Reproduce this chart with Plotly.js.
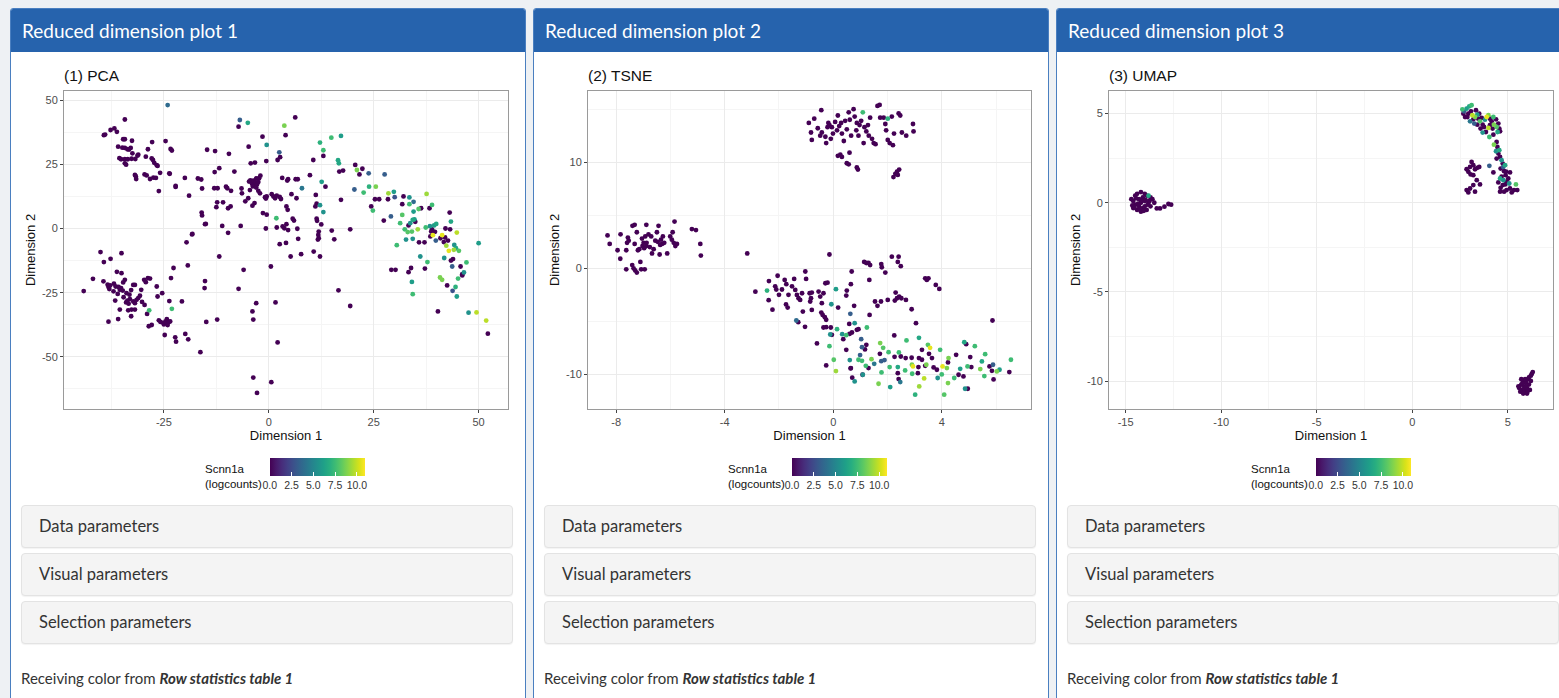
<!DOCTYPE html>
<html>
<head>
<meta charset="utf-8">
<script src="https://cdn.plot.ly/plotly-3.0.1.min.js"></script>
<style>
  html,body{margin:0;padding:0;}
  body{background:#eef1f4;width:1559px;height:698px;overflow:hidden;position:relative;font-family:Lato,"Noto Sans",sans-serif;color:#333;}
  .panel{position:absolute;top:8px;width:516px;height:720px;background:#fff;border:1px solid #4a7fc0;border-radius:3px;box-sizing:border-box;}
  .hdr{height:43px;background:#2663ad;color:#fff;font-size:19px;line-height:43px;padding-left:11px;border-radius:2px 2px 0 0;}
  .plot{position:absolute;left:-1px;top:43px;width:516px;height:448px;}
  .acc{position:absolute;left:10px;width:492px;height:43px;background:#f4f4f4;border:1px solid #e3e3e3;border-radius:4px;box-sizing:border-box;font-size:16.5px;line-height:41px;padding-left:17px;color:#333;box-shadow:0 1px 1px rgba(0,0,0,0.05);}
  .recv{position:absolute;left:10px;top:659px;font-size:15px;line-height:20px;color:#333;white-space:nowrap;}
</style>
</head>
<body>
<div class="panel" style="left:10px;">
  <div class="hdr">Reduced dimension plot 1</div>
  <div class="plot" id="p1"></div>
  <div class="acc" style="top:496px;">Data parameters</div>
  <div class="acc" style="top:544px;">Visual parameters</div>
  <div class="acc" style="top:592px;">Selection parameters</div>
  <div class="recv">Receiving color from <b><i>Row statistics table 1</i></b></div>
</div>
<div class="panel" style="left:533px;">
  <div class="hdr">Reduced dimension plot 2</div>
  <div class="plot" id="p2"></div>
  <div class="acc" style="top:496px;">Data parameters</div>
  <div class="acc" style="top:544px;">Visual parameters</div>
  <div class="acc" style="top:592px;">Selection parameters</div>
  <div class="recv">Receiving color from <b><i>Row statistics table 1</i></b></div>
</div>
<div class="panel" style="left:1056px;">
  <div class="hdr">Reduced dimension plot 3</div>
  <div class="plot" id="p3"></div>
  <div class="acc" style="top:496px;">Data parameters</div>
  <div class="acc" style="top:544px;">Visual parameters</div>
  <div class="acc" style="top:592px;">Selection parameters</div>
  <div class="recv">Receiving color from <b><i>Row statistics table 1</i></b></div>
</div>
<script>
// ---- Data: [Dimension 1, Dimension 2, Scnn1a logcounts] (missing third value = 0) ----
const pcaPoints = [
[-24.1,48.1,3.8],[-34.3,42.5],[-39.3,36.4],[-39,36.6],[-37.7,38.4],[-36.8,39],[-36.2,37.7],[-34.7,34.8],[-34.3,34.8],[-32.6,34.2],[-27.8,33.7],[-24.6,34.1],[-23.4,31],[-23.1,30.4],[-35.9,31.9],[-34.9,31.5],[-34.3,31.4],[-33.7,30.9],[-32.9,31.4],[-33.3,30.8],[-28.8,30.9],[-35.6,27.4],[-35.2,27],[-34.3,27],[-33.6,27],[-32.7,27.2],[-31.8,27.1],[-31.1,28.8],[-34.3,25.4],[-34,24.9],[-29.3,28],[-27.9,27.3],[-27.6,26.7],[-27.3,25.6],[-26.7,24.7],[-26.5,24.4],[-31.9,20.9],[-31.7,20.4],[-29.6,21.1],[-29.1,20.7],[-27.5,19.8],[-26.9,19.7],[-25.9,21.7],[-26.2,14.6],[-23.6,21.3],[-22.2,16.2],[-31.3,28.4],[-32.5,29.3],[-31.6,19.3],[-28.3,19.3],
[-40.1,-9.2],[-35.1,-9.6],[-39.3,-13.1],[-37.7,-11.8],[-41.9,-19.6],[-44.1,-24.4],[-39.4,-20.6],[-38.4,-21.9],[-38.2,-22.8],[-38,-23.6],[-37.8,-22.2],[-36.9,-21.5],[-36.5,-22.6],[-35.8,-22.8],[-35.5,-23.9],[-35.2,-23.2],[-36.2,-16.9],[-35.1,-17.4],[-34.3,-20],[-34.7,-21],[-35.5,-31.6],[-35.9,-35.3],[-38.2,-36.3],[-34.6,-26.8],[-34,-28.8],[-33.7,-28.1],[-33.4,-29.3],[-33.1,-27.5],[-32.3,-28.4],[-31.9,-29.1],[-31.5,-27.8],[-31.1,-27.1],[-30.7,-26.2],[-33.9,-25.2],[-33.2,-25.8],[-33.5,-31.9],[-32.7,-31.6],[-32.8,-34.2],[-31.9,-31.6],[-32.3,-22],[-31.9,-22],[-30.4,-23.9],[-29.7,-20],[-29.3,-20.9],[-28.8,-19.3],[-28.3,-19.5],[-29,-33.3],[-28.6,-38.1],[-27.9,-37.6],[-28.5,-31.9,7.5],[-26.7,-22.6],[-26.5,-26.5],[-26.2,-35.8],[-25.8,-36.4],[-25.4,-25.2],[-25.1,-36.8],[-25,-37.4],[-24.6,-36.2],[-24.3,-35.3],[-24.1,-37.6],[-23.8,-36.4],[-23.5,-36.2],[-24.8,-41.5],[-23.7,-28.3],[-23.1,-31.3,7.5],[-22.7,-15.4],[-23.3,-19.3],[-22.3,-42.4],[-22.1,-44.1],[-20.7,-28.4],[-19.9,-41.1],[-19.2,-43.2],[-19.3,-14.4],[-19.6,-5.4],[-18.3,-2.3],[-37,-24.5],[-36,-25.5],[-32.8,-24],[-30.2,-28.6],[-29.6,-29.8],[-34.8,-24.2],[-36.6,-28.1],
[-22.2,16.6],[-23.7,21.5],[-20,19.7],[-19,12.8],[-16.9,19.5],[-16.1,19.1],[-15.9,15.6],[-16,6.2],[-15.9,5.1],[-15,1.8],[-14.7,30.7],[-12.8,30.2],[-12.9,22],[-11.8,23.5],[-13,15.7],[-12.2,15.7],[-12.5,8.3],[-12.3,10.2],[-11.1,1],[-10.9,10.2],[-10.2,16.3],[-9.9,15.7],[-9.5,29.1],[-9.7,-1.7],[-9.7,7.9],[-9.1,8.6],[-9,14.7],[-8.2,22.2],[-6.7,1],[-6.5,15.6],[-6.4,13.7],[-7.2,39.7],[-6.9,42.3,3.2],[-5,41.2,6.5],[-4.8,31.9],[-4.3,25.4],[-3.3,25.7],
[-4.7,18.3],[-4.4,18.8],[-4,17.4],[-3.7,18.7],[-3.8,16.4],[-3.5,16.7],[-3.2,18],[-3,19.5],[-2.8,17.2],[-2.5,18.1],[-2.3,19.6],[-2,20.6],
[-5.6,10.6],[-4.9,11.8],[-4.5,15],[-3,16],[-2.5,14.7],[-2.1,13.7],[-3.9,8.9],[-3.4,9.9],[-1.5,35.8],[-0.5,32.6,5.5],[-0.6,26.3],[-0.9,12.2],[-0.5,12.5],[-0.7,11.7],[-1.4,6],[-0.5,5.4],[-0.7,0],[0.5,-14.8],[0.7,13.4],[1.1,12.5],[1.5,11.8],[1.9,12.8],[1.8,4,7.5],[1.9,0.4],[2.5,29.7,3.2],[2.7,27.8],[2.1,26.7],[3.2,19.7],[3.7,40.1,8.7],[4,36.4],[2.6,12.3],[2.9,11.5],[3.3,0.8],[3.7,0.1],[2.6,-6.1],[1.6,-28.8],[2.1,-44.4],[0.6,-59.9],[-3.7,-58.1],[-2.8,-64.1],[6.3,43.3],[4.4,18.7],[4.6,19.2],[4.2,8.6],[4.5,7.3],[4.2,1.7],[4.6,-0.6],[4.1,-5.6],[5.4,13.4],[6.4,19.2],[6.9,19.2],[5.7,3.8],[6,3.1],[6.6,11.8],[6.8,-0.1],[7,-4],[5.2,-10.9],[7.9,15.7,4.3],[7.7,-10],[9.8,20.8],[10.6,26.7],[12.2,33.5,7],[13,30.5,7.5],[13,28.3],[12.6,18.2,6],[13.5,16.3],[11.2,13.1],[11.4,9.7],[11.1,8.6],[12.2,9.1,5.5],[13,6.4,5.5],[11.4,3.8],[11.5,3],[11.9,-1.2],[11.8,-2.5],[11.9,-3.8],[11.7,-4.3],[12.5,1.6],[10.7,-9],[12.2,-10.9],[14.9,35.4,7.5],[16.5,26.6,6.5],[16.7,25.4,6.5],[17.2,36.1,6],[16.8,22.2],[17.7,22.6],[17.2,11.2],[15,-0.8],[15.6,-4.2],[16.6,-24.1],[19.4,-30.2],[19.4,-0.3],
[-3.9,-32.3],[-3.7,-35.5],[-3,-29.1],[-7.2,-23.5],[-6,-16.1],[-11.8,-10.9],[-12.3,-35.5],[-14.9,-36.4],[-15.2,-20.5],[-15.3,-23.2],[-16.3,-48.2],[-18.2,-2.1],[-15.2,1.7],
[23.8,21.5,3.2],[27.6,21.1,3.2],[22.6,14,7.5],[23.9,16.3,7],[25.5,16.3,8.7],[25.3,11.4],[26.3,11.4],[24.4,8.6],[24.8,7,7.5],[28.5,13.7,9.3],[28.4,11.4],[29.8,14.3,6],[30,12.2,2.7],[32.1,12.5],[31.8,9.5],[33.5,12.1,5.5],[34.5,10.4,3.8],[33.5,9.5,7.5],[34.5,6.6,6],[31.8,5.3,8],[35.7,7.6,8],[37.6,13.5,9.3],[38.9,9.2,7.5],[36.3,7.9],[38.3,7.9],[29.1,4.7,3.2],[27.4,3.1],[31.3,2.1,7.5],[32.4,-0.3,7.5],[33.3,1.2],[33.7,2.1,5.5],[34.3,3.4,6.5],[34.7,3.6,6],[33.1,-1.4,8],[34.1,-1.2,8],[34.9,2.6],[32.7,-4.3,5.5],[34.3,-4,5.5],[35.8,-5.4],[30.5,-6.5,7.5],[35.5,-0.3,9.3],[37.4,0.4,7.5],[38.4,0.9,5.5],[38.9,-0.3],[39.4,1.2,6],[39.9,1.8,6.5],[38.7,-1.2],[39.6,-1.3],[39.1,-2.6,10.5],[41.3,-2.6,10.5],[38.5,-3.1],[39.8,-4.7,3.2],[40.9,-3.8],[42.1,0],[43.1,6.2],[43.4,2.7,6.5],[42,-3.5],[42.7,-4.7],[41.7,-5.3],[44.8,-1.6,9.8],[44.2,-6.4,5.5],[44.1,-8.3,9.3],[44.6,-7.7,6.5],[45.3,-8.7,8],[42.3,-6.7,9.3],[42.9,-8.7,10.5],[41.8,-11.5,5.5],[43.9,-11.9],[43.4,-12.5],[43.7,-14.8,3.2],[45.7,-14.8],[47.1,-13.2,7.5],[46.5,-17.1,5.5],[46.1,-17.8],[36.1,-10.9,5.5],[37.8,-13.1,7.5],[37.2,-15.6],[37.1,-5.4],[29.2,-16.1],[30.2,-16.1],[33.9,-15.4],[33.3,-17],[34.1,-20.8,6],[34.3,-25.6,7.5],[40.8,-19.1,8.7],[41.3,-20,8.7],[42.5,-22.2],[43.8,-24.3,2.7],[44.5,-22.8,7],[44.8,-26.5,6],[45.1,-19.5,7.5],[46.1,-18.3],[40.3,-32.3],[47.6,-32.8,5.5],[49.5,-32.7,9.8],[51.8,-35.9,9.8],[50,-5.7,6],[43.2,-0.3],[52.2,-41],[20.4,15.2,3.2],[20.6,24.8],[21,22.8,8.7],[21.6,21.1],[22.3,23.3]
];

const tsnePoints = [
[-8.32,3.1],[-8.24,2.3],[-7.95,1.7],[-7.84,3.2],[-7.85,0.9],[-7.63,1.7],[-7.6,2.4],[-7.54,2.6],[-7.57,2.9],[-7.63,-0.1],[-7.4,4],[-7.32,4.1],[-7.41,0.3],[-7.36,0],[-7.3,-0.2],[-7.24,-0.4],[-7.32,2.3],[-7.24,3.4],[-7.2,1.7],[-7.15,1.8],[-7.11,0.6],[-7.08,-0.1],[-6.95,-0.1],[-7.05,2.8],[-7.03,2.1],[-6.99,2.4],[-6.97,1.9],[-6.93,3],[-6.89,2.1],[-6.88,2.4],[-6.89,4.1],[-6.81,3.2],[-6.76,2],[-6.71,3],[-6.68,1.4],[-6.62,1.8],[-6.56,2.6],[-6.5,3.4],[-6.47,2.5],[-6.44,4],[-6.4,1.3],[-6.38,2.2],[-6.35,2.7],[-6.31,2.3],[-6.28,3],[-6.23,2.4],[-6.12,1.4],[-6.01,3],[-5.95,2.7],[-5.92,3.4],[-5.85,4.4],[-5.88,2.4],[-5.82,2.1],[-5.76,2.3],[-5.21,3.7],[-5.06,3.6],[-4.9,2.3],[-4.88,1.2],[-3.17,1.4],
[-0.44,14.9],[-0.7,14.1],[-0.9,13.7],[-0.82,12.8],[-0.79,12.1],[-0.57,13.2],[-0.48,12.5],[-0.42,12.8],[-0.29,12.4],[-0.26,11.8],[-0.21,13.3],[-0.18,13.7],[-0.14,13.5],[-0.09,12.2],[-0.05,13.3],[-0.01,12.7],[0.07,13.8],[0.14,13],[0.17,14.4],[0.22,13.4],[0.29,13.7],[0.32,12.7],[0.39,12],[0.44,13.9],[0.5,13.1],[0.57,14.7],[0.61,14],[0.66,12.5],[0.75,15],[0.79,14.3],[0.85,13],[0.87,13.7],[0.93,12.5],[0.97,13.5],[1.03,13.9],[1.09,14.7,7.5],[1.12,11.8],[1.15,13.3],[1.22,12.9],[1.28,13.5],[1.31,12.5],[1.36,14.2],[1.43,12.2],[1.49,11.8],[1.56,11.7],[1.63,15.3],[1.71,15.4],[1.73,14.2],[1.86,14.2],[1.92,13.6],[1.95,13],[2.01,14.1,7],[2.01,12.1],[2.08,11.8],[2.2,11.6],[2.16,14.3],[2.24,12.7],[2.41,14.6],[2.47,14.4],[2.53,12.8],[2.69,12.5],[2.94,13.6],[2.96,12.9],[0.17,10.6],[0.26,10.7],[0.32,10.5],[0.6,10.9],[0.5,9.9],[0.57,9.8],[0.87,9.5],[0.91,9.3],[2.22,8.6],[2.29,8.9],[2.35,9.1],[2.43,9.3],[2.38,8.8],
[-2.87,-2.2],[-2.44,-2.1,7],[-2.37,-1.2],[-2.38,-3],[-2.24,-3.9],[-2.14,-1.7],[-2.1,-2],[-2.05,-0.7],[-2,-2.5],[-1.89,-2],[-1.79,-1.1],[-1.73,-1.5],[-1.74,-3.4],[-1.68,-3.7],[-1.65,-2.5],
[-0.14,1.3],[1.14,0.6],[1.22,0.5],[1.3,0.5],[1.36,0.3],[1.77,0.4],[1.79,0.1],[2.16,1.1],[2.41,1.1],[2.38,0.6],[2.49,0.2],[1.92,-0.4],[0.68,-0.3],[1.33,-1.1],[-1.44,-1],[-1.52,-1.7],[-1.03,-0.3],[-1,-1],[-1.4,-2.04],[-1.34,-2.51],[-1.28,-2.82],[-1.22,-2.98],[-1.15,-2.35],[-0.87,-2.35],[-0.82,-2.82],[-0.85,-3.13],[-0.79,-2.29],[-0.54,-2.19],[-0.48,-2.66],[-0.42,-3.29],[-0.36,-2.35],[-0.29,-1.41],[-0.21,-1.35],[0.65,-1.5],[0.48,-2.57],[0.5,-2.1],[-1.12,-4.08],[-0.79,-3.92],[-0.44,-4.17],[-0.39,-4.39],[-0.31,-4.61],[-0.26,-4.86],[-0.36,-5.58],[-0.26,-5.55],[-0.09,-5.58],[-0.05,-6.27],[-1.36,-4.92,3.8],[-1.29,-5.08],[-1.04,-5.52],[-0.6,-7.08],[-0.26,-9.15],[-0.14,-7.34,7.5],[-0.11,-6.24,5.5],[0.14,-5.74,7],[0.1,-1.97,6],[-0.07,-3.39,5.5],[0.63,-4.29,3.2],[0.79,-5.17,5.5],[0.69,-6.05],[0.6,-6.18],[0.48,-6.3,7.5],[0.33,-6.21,5.5],[0.37,-6.68],[0.87,-5.8],[0.93,-5.74],[1.24,-5.58,7.5],[0.77,-3.54],[0.18,-3.7],[0.59,-5.24],[1.03,-6.68,3.2],[1.06,-7.43,3.2],[1.22,-7.21],[1.17,-7.65],[1.34,-4.39],[1.54,-3.13],[1.63,-3.54],[1.76,-3.13],[2.01,-2.98],[2.3,-2.29],[2.27,-3.04],[2.35,-2.82],[2.43,-2.66],[2.51,-2.82],[2.68,-2.98],[2.89,-3.86],[3.05,-5.17],[2.25,-6.33],[1.73,-7.05,8.7],[1.84,-7.49,8],[2.04,-7.9,7.5],[2.42,-7.93,7.5],[2.7,-6.8,7.5],[3.16,-6.55,6.5],[2.67,-8.46],[2.49,-8.31],[2.26,-8.34],[1.72,-8.06],[1.89,-8.65,3.2],[1.77,-8.75,3.2],[0.48,-7.68],[0.02,-8.62,8],[0.1,-9.69,9.3],[0.61,-8.65,5.5],[0.64,-9.44],[0.93,-8.62,7.5],[0.99,-8.18,3.2],[1.06,-8.72,7.5],[1.2,-9.19,7.5],[1.09,-10.03,5.5],[1.3,-9.4],[1.41,-8.56,8.7],[1.51,-9,4.3],[1.78,-9.81,7.5],[2.08,-9.31,7.5],[2.38,-9.31,6.5],[2.38,-9.88],[2.41,-10.44],[2.47,-10.72,4.3],[2.65,-9.62,7.5],[2.9,-9.09,8.7],[2.94,-9.25,10.5],[2.91,-9.94,7.5],[3.14,-9.31],[3.12,-9.88],[3.16,-8.46],[2.89,-8.43],[3.27,-7.68],[3.27,-8.62],[3.39,-9.19],[3.43,-9.09,8.7],[3.49,-7.21,8],[3.53,-8.06],[3.57,-7.49,10.5],[3.64,-8.46],[3.7,-9.34],[3.82,-9.56],[3.85,-10.34,5.5],[3.94,-7.68,7.5],[4,-10,7.5],[4.03,-9.25,10.5],[4.19,-9.4,8.7],[4.25,-8.46,8.7],[4.23,-8.87],[4.46,-10.34,7.5],[4.53,-8.15],[4.62,-10.03],[4.68,-9.47,6],[4.8,-10.19],[4.83,-6.96,6.5],[4.9,-7.15],[4.86,-11.35,5.5],[4.96,-11.35],[5.05,-8.37],[4.95,-9.25,7.5],[5.09,-9.31],[5.22,-7.34,7.5],[5.42,-9.5,8.7],[5.48,-8.78,6.5],[5.57,-10.16,7.5],[5.6,-8.09,7.5],[5.76,-9.25],[5.85,-9.66],[5.89,-9.09,3.2],[5.91,-10.47],[5.87,-4.92],[6.03,-9.72,8.7],[6.13,-9.56,6],[6.49,-9.78],[6.55,-8.62,7.5],[4.09,-11.91,8],[4.23,-10.82,8.7],[3.35,-10.38,9.8],[3.17,-11.13,9.3],[3.02,-11.91,7],[2.1,-11.19,6],[1.67,-10.88,8.7],[0.79,-10.66,5.5],[0.7,-10.31],[1.08,-10.03],[0.65,-9.4],
[3.39,-0.94],[3.45,-1.1],[3.51,-0.94],[3.78,-1.57],[3.91,-1.94]
];

const umapPoints = [
[-14.7,0.2],[-14.6,-0.3],[-14.6,0.1],[-14.5,0.4],[-14.5,-0.1],[-14.4,0.5],[-14.4,-0.4],[-14.3,0.2],[-14.3,-0.2],[-14.2,0.6],[-14.2,0.0],[-14.2,-0.5],[-14.1,0.3],[-14.1,-0.3],[-14.0,0.5],[-14.0,0.1],[-14.0,-0.2],[-13.9,0.4],[-13.9,-0.4],[-13.8,0.4,6.5],[-13.8,0.0],[-13.7,0.3],[-13.7,-0.2],[-13.6,0.2],[-13.5,0.0],[-14.65,-0.15],[-14.45,0.25],[-14.35,-0.05],[-14.15,0.15],[-13.95,0.15],[-13.85,-0.1],[-14.25,-0.35],[-14.55,-0.25],[-14.05,-0.45],[-13.75,0.1],[-13.37,-0.32],[-13.2,-0.32],[-12.97,-0.22],[-12.76,-0.07],[-12.62,-0.11],
[2.62,5.24,7.5],[2.7,5.13,3.2],[2.84,5.28,6],[2.98,5.41,6.5],[3.1,5.47,7.5],[2.93,5.0],[3.07,5.13],[3.14,4.91,9.8],[3.28,4.81,8.7],[3.19,4.68],[3.33,5.19],[3.4,4.94,6],[3.45,4.72],[3.54,4.57,8],[3.63,4.76],[3.24,4.44,3.2],[3.4,4.38],[3.5,5.0],[3.68,4.38],[3.8,4.66,5.5],[3.89,4.81,10.5],[3.98,4.91,8.7],[4.06,4.72],[4.06,4.35],[4.15,4.57],[4.2,4.16],[4.24,4.81,7.5],[4.27,4.38,8.7],[4.38,4.68],[4.41,4.25,8],[4.5,4.44],[4.55,4.16],[3.68,3.94,5.5],[3.85,3.97],[4.03,3.69,7.5],[4.24,3.82],[4.46,3.97,6.5],[4.59,4.01],[3.98,4.2,9.8],[3.75,4.25],[2.76,4.81],[2.67,5.0],[3.02,4.57,4.3],[2.88,4.81],[3.57,4.16],
[4.27,3.26,8.7],[4.41,3.41],[4.45,3.13],[4.38,2.89,5.5],[4.5,2.76],[4.55,2.95,6.5],[4.59,2.57],[4.41,2.48],[4.67,2.39,5.5],[4.73,2.2],[4.76,2.01,3.2],[4.85,2.11,6.5],[4.62,1.92],[4.8,1.77],[4.88,1.55],[4.67,1.46],[4.59,1.36,6.5],[4.76,1.27,5.5],[4.93,1.18],[5.02,1.36],[4.86,1.03],[4.73,0.99],[4.62,0.84],[4.59,0.62],[4.8,0.62],[4.93,0.71],[5.11,0.8],[5.2,0.58],[5.32,0.71],[5.42,1.03,8],[5.49,0.71],[5.07,1.08,5.5],[4.5,1.14],[4.9,1.74],[5.11,1.7],
[3.1,2.29],[3.19,2.11],[3.02,2.01],[2.84,1.88],[2.93,1.74],[3.28,1.88],[3.4,1.96],[3.5,2.01],[3.19,1.55],[3.05,1.59],[4.03,2.07,3.2],[3.37,1.27],[3.54,1.03],[2.84,0.71],[3.02,0.8],[3.19,0.99],[2.93,0.58],[3.28,0.62],[4.24,1.7],
[5.6,-10.4],[5.7,-10.2],[5.75,-10.5],[5.8,-10.0],[5.85,-10.3],[5.9,-10.6],[5.95,-10.1],[6.0,-10.4],[6.05,-9.9],[6.1,-10.2],[6.15,-10.5],[6.2,-9.7],[6.25,-9.6],[6.3,-9.5],[5.65,-10.6],[5.8,-10.7],[5.9,-9.9],[5.7,-9.9],[6.0,-10.7],[6.1,-9.8],[5.55,-10.3],[5.85,-10.45],[6.05,-10.55],[6.2,-10.0],[5.95,-10.35],[5.75,-10.15]
];

// Axis tick values
const pcaXTicks = [-25, 0, 25, 50];
const pcaYTicks = [-50, -25, 0, 25, 50];
const tsneXTicks = [-8, -4, 0, 4];
const tsneYTicks = [-10, 0, 10];
const umapXTicks = [-15, -10, -5, 0, 5];
const umapYTicks = [-10, -5, 0, 5];

const colorTickVals = [0, 2.5, 5, 7.5, 10];
const colorTickText = ['0.0', '2.5', '5.0', '7.5', '10.0'];
const colorMin = 0, colorMax = 10.9;

const panels = [
  {id:'p1', title:'(1) PCA', pts:pcaPoints, xr:[-48.8,57.0], yr:[-70.35,53.6], xt:pcaXTicks, yt:pcaYTicks, l:54, r:18},
  {id:'p2', title:'(2) TSNE', pts:tsnePoints, xr:[-9.04,7.29], yr:[-13.26,16.71], xt:tsneXTicks, yt:tsneYTicks, l:55, r:18},
  {id:'p3', title:'(3) UMAP', pts:umapPoints, xr:[-15.87,7.36], yr:[-11.57,6.27], xt:umapXTicks, yt:umapYTicks, l:53, r:19}
];

const W = 516, H = 448, T = 39, B = 91;
const FONT = '"Liberation Sans", Arial, sans-serif';

panels.forEach(p => {
  const sorted = p.pts.map(q => [q[0], q[1], q.length > 2 ? q[2] : 0]).sort((a,b) => a[2]-b[2]);
  const trace = {
    type:'scatter', mode:'markers',
    x: sorted.map(q => q[0]), y: sorted.map(q => q[1]),
    hoverinfo:'skip',
    marker:{
      size:4.8, color: sorted.map(q => q[2]), colorscale:'Viridis', cmin:colorMin, cmax:colorMax,
      line:{width:0}, showscale:true,
      colorbar:{
        orientation:'h', xref:'container', x:357/W, xanchor:'center',
        yref:'container', y:1-406/H, yanchor:'top',
        len:95, lenmode:'pixels', thickness:18, thicknessmode:'pixels',
        xpad:0, ypad:0, outlinewidth:0,
        tickmode:'array', tickvals:colorTickVals, ticktext:colorTickText,
        ticks:'inside', ticklen:4, tickcolor:'#ffffff', tickwidth:1,
        tickfont:{family:FONT, size:10.5, color:'#333'},
        title:{text:''}
      }
    }
  };
  const pw = W - p.l - p.r, ph = H - T - B;
  const ax = (range, ticks, title) => {
    const step = ticks[1] - ticks[0];
    return {
      range: range, tickmode:'array', tickvals: ticks, ticktext: ticks.map(v => String(v)),
      showgrid:true, gridcolor:'#ebebeb', gridwidth:1,
      minor:{tickmode:'linear', dtick: step/2, tick0: ticks[0] + step/2, showgrid:true, gridcolor:'#f5f5f5', gridwidth:1, ticks:''},
      zeroline:false, showline:true, mirror:true, linecolor:'#9a9a9a', linewidth:1,
      ticks:'outside', ticklen:3, tickcolor:'#444', tickwidth:1,
      tickfont:{family:FONT, size:11, color:'#4d4d4d'},
      title:{text:title, font:{family:FONT, size:13, color:'#111'}, standoff:3},
      automargin:false, fixedrange:true
    };
  };
  const layout = {
    width:W, height:H, margin:{l:p.l, r:p.r, t:T, b:B, pad:0},
    paper_bgcolor:'rgba(0,0,0,0)', plot_bgcolor:'#ffffff',
    showlegend:false,
    title:{text:p.title, xref:'paper', x:0, xanchor:'left', yref:'container', y:1-24/H, yanchor:'middle',
           font:{family:FONT, size:15.5, color:'#111'}},
    xaxis: ax(p.xr, p.xt, 'Dimension 1'),
    yaxis: ax(p.yr, p.yt, 'Dimension 2'),
    annotations:[{
      text:'Scnn1a<br>(logcounts)', showarrow:false, align:'left',
      xref:'paper', x:(193 - p.l)/pw, xanchor:'left',
      yref:'paper', y:(H - B - 424.5)/ph, yanchor:'middle',
      font:{family:FONT, size:11.5, color:'#111'}
    }]
  };
  Plotly.newPlot(p.id, [trace], layout, {displayModeBar:false, staticPlot:true});
});
</script>
</body>
</html>
